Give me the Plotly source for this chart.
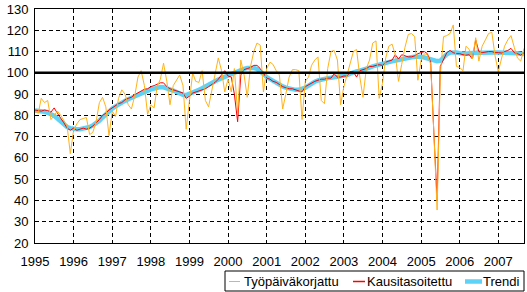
import pandas as pd
import plotly.graph_objects as go

# Monthly values Jan 1995 .. Sep 2007
tyopaiva = [
    82, 81, 88, 86, 87, 78, 80, 82, 80, 77.5, 75, 62,            # 1995
    73, 76, 78, 78.5, 79, 71, 72, 77, 86, 88.5, 84, 70.5,        # 1996
    82, 79.5, 88, 92, 90, 85, 83, 89, 98, 101, 94, 80.5,         # 1997
    85, 83.5, 93.5, 97, 104.5, 96, 85, 94, 96.5, 99, 94, 73.5,   # 1998
    87, 100, 96, 95.5, 101, 87, 84, 91.5, 100, 107, 101, 91,     # 1999
    97, 91, 102, 81, 106, 99, 88.5, 103, 110, 114, 113, 91,      # 2000
    102, 105, 104, 101, 99, 83, 90, 98, 101.5, 101.5, 101, 78,   # 2001
    96, 98, 103.5, 106, 107.5, 87, 85.5, 102, 110, 110.5, 106, 85,  # 2002
    93.5, 99.5, 105, 110, 111, 98, 88.5, 102, 106, 114, 115, 88,    # 2003
    95, 107, 112.5, 113.5, 108.5, 96, 104, 112, 118, 118.5, 117, 96.5,  # 2004
    106, 109, 108.5, 104, 72, 35.5, 99, 117, 117.5, 118.5, 122.5, 103,  # 2005
    102.5, 101, 112.5, 111, 106.5, 116.5, 105.5, 112.5, 115.5, 118.5, 119, 108,  # 2006
    100.5, 106.5, 112.5, 115.5, 117.5, 112, 107, 105.5, 111.5,   # 2007
]

kausitasoitettu = [
    82.5, 82.3, 82, 82.5, 82.3, 81.5, 83.5, 81, 79, 76.5, 74, 73,
    74, 73, 73.5, 74, 73.5, 74, 75, 76.5, 78, 80, 81, 82.5,
    83.5, 84.5, 85.5, 86, 87.3, 88, 88.5, 89.7, 90.5, 91.5, 92.3, 92.5,
    93.5, 94, 94.8, 95.3, 95.3, 93.5, 92.5, 92, 91.5, 91, 90.5, 88,
    89, 90.5, 91, 91.5, 92, 92.5, 93.5, 94.5, 95.5, 97, 99, 101,
    98.5, 98, 90, 77, 99, 101.5, 102, 102.5, 103.5, 103.5, 102, 100,
    97.5, 97, 96, 95.5, 94.5, 93.5, 93, 92.5, 92.5, 92, 91.5, 91,
    93.5, 94.5, 95, 96, 96.5, 97, 97, 97.5, 97.5, 99.5, 98, 98,
    98.5, 98.5, 100.5, 100.5, 98, 101, 101.5, 102, 103, 103, 103.5, 103.8,
    103.5, 105, 105.5, 106, 108.5, 106.5, 108.5, 108, 107.5, 107.5, 108, 109,
    109.5, 110, 109, 105, 72, 40, 103, 106, 109.5, 110.5, 109.5, 109,
    109, 108.5, 108.3, 108.5, 106.5, 115.5, 110, 109.5, 109.8, 110, 110, 109.5,
    109.5, 109.3, 110, 110.5, 111.5, 109.5, 109, 108.3, 109.5,
]

trendi = [
    82.3, 82.2, 82, 81.7, 81.2, 80.5, 79.8, 78.5, 77, 75.5, 74.5, 74,
    73.6, 73.5, 73.5, 73.7, 74, 74.5, 75.3, 76.3, 77.5, 79, 80.5, 82,
    83.2, 84.2, 85.2, 86, 86.8, 87.6, 88.3, 89, 89.8, 90.6, 91.2, 91.8,
    92.2, 92.6, 93, 93.3, 93.2, 92.8, 92.2, 91.6, 91, 90.3, 89.7, 89.5,
    90, 90.6, 91.3, 92, 92.7, 93.4, 94.2, 95.1, 96, 96.8, 97.5, 98.3,
    99, 99.7, 100.3, 100.9, 101.4, 101.9, 102.3, 102.5, 102.3, 101.8, 100.8, 99.5,
    98, 97, 96, 95, 94.3, 93.6, 93, 92.5, 92.2, 92, 92, 92.3,
    93, 94, 95, 95.8, 96.4, 96.9, 97.2, 97.5, 97.7, 97.9, 98, 98.1,
    98.3, 98.9, 99.6, 100.3, 100.7, 101, 101.3, 101.8, 102.4, 103, 103.5, 103.9,
    104.2, 104.6, 105, 105.4, 105.8, 106.2, 106.5, 106.8, 107.1, 107.3, 107.5, 107.6,
    107.5, 107.2, 106.8, 106.3, 105.8, 105.5, 105.6, 107.5, 108.8, 109.5, 109.8, 109.6,
    109.2, 109, 109, 109.2, 109.4, 109.5, 109.5, 109.4, 109.3, 109.3, 109.4, 109.5,
    109.5, 109.5, 109.6, 109.7, 109.7, 109.5, 109.2, 109, 108.8,
]

months = pd.date_range("1995-01-01", periods=len(trendi), freq="MS")
year_ticks = [f"{y}-01-01" for y in range(1995, 2008)]
year_labels = [str(y) for y in range(1995, 2008)]
y_ticks = list(range(20, 131, 10))

names = ["Työpäiväkorjattu", "Kausitasoitettu", "Trendi"]
colors = ["#FFB31A", "#FF0000", "#5CD3F7"]

FONT = "Liberation Sans, Arial, sans-serif"

fig = go.Figure()
fig.add_trace(go.Scatter(x=months, y=trendi, name=names[2], mode="lines",
                         line=dict(color=colors[2], width=4.5), showlegend=False))
fig.add_trace(go.Scatter(x=months, y=kausitasoitettu, name=names[1], mode="lines",
                         line=dict(color=colors[1], width=1), showlegend=False))
fig.add_trace(go.Scatter(x=months, y=tyopaiva, name=names[0], mode="lines",
                         line=dict(color=colors[0], width=1), showlegend=False))

# reference line at 100
fig.add_shape(type="line", xref="paper", x0=0, x1=1, yref="y", y0=100, y1=100,
              line=dict(color="black", width=2.5), layer="above")

W, H = 527, 292
L, R, T, B = 35, 3, 9, 49
pw, ph = W - L - R, H - T - B

def px(x):
    return (x - L) / pw

def py(y):
    return (H - B - y) / ph

# manual legend
fig.add_shape(type="rect", xref="paper", yref="paper",
              x0=px(225), x1=px(524), y0=py(291), y1=py(271),
              line=dict(color="black", width=1), fillcolor="white", layer="above")
legend_items = [
    (229, 240, 244, 1),
    (353, 365, 367, 1.5),
    (465, 482, 483, 4.5),
]
for (sx0, sx1, tx, lw), name, col in zip(legend_items, names, colors):
    fig.add_shape(type="line", xref="paper", yref="paper",
                  x0=px(sx0), x1=px(sx1), y0=py(281.5), y1=py(281.5),
                  line=dict(color=col, width=lw), layer="above")
    fig.add_annotation(xref="paper", yref="paper", x=px(tx), y=py(281.5),
                       text=name, showarrow=False, xanchor="left", yanchor="middle",
                       font=dict(family=FONT, size=13, color="black"), xshift=-2)

fig.update_xaxes(type="date", range=["1995-01-01", "2007-09-01"],
                 tickvals=year_ticks, ticktext=year_labels,
                 showgrid=True, gridcolor="black", gridwidth=1, griddash="4px,3px",
                 showline=True, linecolor="black", linewidth=1, mirror=True,
                 ticks="", tickfont=dict(family=FONT, size=13, color="black"),
                 ticklabelstandoff=6, zeroline=False)
fig.update_yaxes(range=[20, 130], tickvals=y_ticks,
                 showgrid=True, gridcolor="black", gridwidth=1, griddash="4px,3px",
                 showline=True, linecolor="black", linewidth=1, mirror=True,
                 ticks="", tickfont=dict(family=FONT, size=13, color="black"),
                 ticklabelstandoff=3, zeroline=False)

fig.update_layout(width=W, height=H, margin=dict(l=L, r=R, t=T, b=B),
                  paper_bgcolor="white", plot_bgcolor="white", showlegend=False,
                  font=dict(family=FONT, size=13, color="black"))

fig.write_html("out.html")
